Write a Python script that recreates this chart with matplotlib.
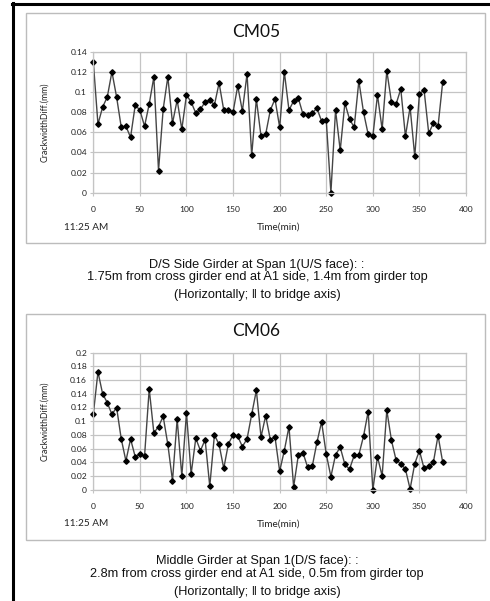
import numpy as np
import matplotlib
matplotlib.use("Agg")
import matplotlib.pyplot as plt
from matplotlib.patches import Rectangle
from matplotlib.lines import Line2D

# time axis, one reading every 5 minutes
time_min = list(range(0, 380, 5))

cm05 = [0.130, 0.068, 0.085, 0.095, 0.120, 0.095, 0.065, 0.066, 0.055, 0.087,
        0.082, 0.066, 0.088, 0.115, 0.022, 0.083, 0.115, 0.069, 0.092, 0.063,
        0.097, 0.090, 0.079, 0.083, 0.090, 0.092, 0.087, 0.109, 0.082, 0.082,
        0.080, 0.106, 0.081, 0.118, 0.037, 0.093, 0.056, 0.058, 0.082, 0.093,
        0.065, 0.120, 0.082, 0.091, 0.094, 0.078, 0.077, 0.079, 0.084, 0.071,
        0.072, 0.000, 0.082, 0.042, 0.089, 0.073, 0.065, 0.111, 0.080, 0.058,
        0.056, 0.097, 0.063, 0.121, 0.090, 0.088, 0.103, 0.056, 0.085, 0.036,
        0.098, 0.102, 0.059, 0.069, 0.066, 0.110]

cm06 = [0.110, 0.172, 0.140, 0.127, 0.110, 0.120, 0.074, 0.042, 0.074, 0.048,
        0.052, 0.049, 0.147, 0.083, 0.092, 0.107, 0.066, 0.013, 0.103, 0.020,
        0.112, 0.023, 0.075, 0.057, 0.073, 0.005, 0.080, 0.066, 0.031, 0.067,
        0.080, 0.078, 0.063, 0.074, 0.110, 0.145, 0.077, 0.108, 0.073, 0.077,
        0.027, 0.057, 0.092, 0.004, 0.050, 0.054, 0.033, 0.034, 0.069, 0.099,
        0.052, 0.019, 0.051, 0.062, 0.037, 0.030, 0.050, 0.051, 0.078, 0.114,
        0.000, 0.048, 0.020, 0.116, 0.072, 0.043, 0.038, 0.030, 0.001, 0.038,
        0.057, 0.031, 0.034, 0.040, 0.079, 0.040]

captions = [
    ["D/S Side Girder at Span 1(U/S face): :",
     "1.75m from cross girder end at A1 side, 1.4m from girder top",
     "(Horizontally; \u2016 to bridge axis)"],
    ["Middle Girder at Span 1(D/S face): :",
     "2.8m from cross girder end at A1 side, 0.5m from girder top",
     "(Horizontally; \u2016 to bridge axis)"],
]

W, H = 490, 601
fig = plt.figure(figsize=(W / 100, H / 100), dpi=100)
fig.patch.set_facecolor("white")


def fx(px):
    return px / W


def fy(py):
    return 1 - py / H


# black frame on the top and left
fig.add_artist(Line2D([fx(13), fx(13)], [fy(3), 0], color="black", lw=2.2,
                      transform=fig.transFigure, zorder=5))
fig.add_artist(Line2D([fx(12), 1], [fy(4), fy(4)], color="black", lw=2.2,
                      transform=fig.transFigure, zorder=5))

chart_font = ["Lato", "DejaVu Sans"]
cap_font = ["Liberation Sans", "DejaVu Sans"]

panels = [
    dict(name="CM05", data=cm05, ymax=0.14, box=(26, 13, 485, 243),
         plot=(93.3, 51.7, 466, 192.7), title_y=32, lab_y=227,
         cap_y=(265, 277, 295)),
    dict(name="CM06", data=cm06, ymax=0.2, box=(26, 314, 485, 540),
         plot=(93.3, 352.7, 466, 489.7), title_y=331, lab_y=524,
         cap_y=(561, 574, 592)),
]

for i, p in enumerate(panels):
    x0, y0, x1, y1 = p["box"]
    fig.add_artist(Rectangle((fx(x0), fy(y1)), fx(x1 - x0), (y1 - y0) / H,
                             transform=fig.transFigure, facecolor="white",
                             edgecolor="#bcbcbc", lw=1.0, zorder=-5))
    l, t, r, b = p["plot"]
    ax = fig.add_axes([fx(l), fy(b), fx(r - l), (b - t) / H])
    ax.patch.set_alpha(0)
    ax.plot(time_min, p["data"], color="#454545", lw=1.0, marker="D",
            markersize=2.8, markerfacecolor="black", markeredgecolor="black",
            clip_on=False)
    ax.set_xlim(0, 400)
    ax.set_ylim(0, p["ymax"])
    ax.set_xticks(np.arange(0, 401, 50))
    yt = np.arange(0, p["ymax"] + 1e-9, 0.02)
    ax.set_yticks(yt)
    ax.set_yticklabels(["0" if v == 0 else f"{v:.2f}".rstrip("0") for v in yt])
    ax.grid(True, color="#c4c4c4", lw=0.9)
    ax.set_axisbelow(True)
    for s in ax.spines.values():
        s.set_color("#c4c4c4")
        s.set_linewidth(0.9)
    ax.tick_params(length=2, color="#c4c4c4", labelsize=6.1,
                   labelcolor="#222222")
    ax.tick_params(axis="x", pad=7.5)
    ax.tick_params(axis="y", pad=2.5)
    for lab in ax.get_xticklabels() + ax.get_yticklabels():
        lab.set_family(chart_font)
    ax.set_ylabel("CrackwidthDiff.(mm)", fontsize=6.3, family=chart_font,
                  color="#222222")
    ax.yaxis.set_label_coords((49 - l) / (r - l), 0.5)

    fig.text(fx(256), fy(p["title_y"]), p["name"], ha="center", va="center",
             fontsize=12.5, family=chart_font, color="#111111")
    fig.text(fx(86), fy(p["lab_y"]), "11:25 AM", ha="center", va="center",
             fontsize=7.2, family=chart_font, color="#222222")
    fig.text(fx(279), fy(p["lab_y"]), "Time(min)", ha="center", va="center",
             fontsize=7.2, family=chart_font, color="#222222")

    for line, yy in zip(captions[i], p["cap_y"]):
        fig.text(fx(257), fy(yy), line, ha="center", va="center",
                 fontsize=9.2, family=cap_font, color="#111111")

fig.savefig("out.png", dpi=100)
